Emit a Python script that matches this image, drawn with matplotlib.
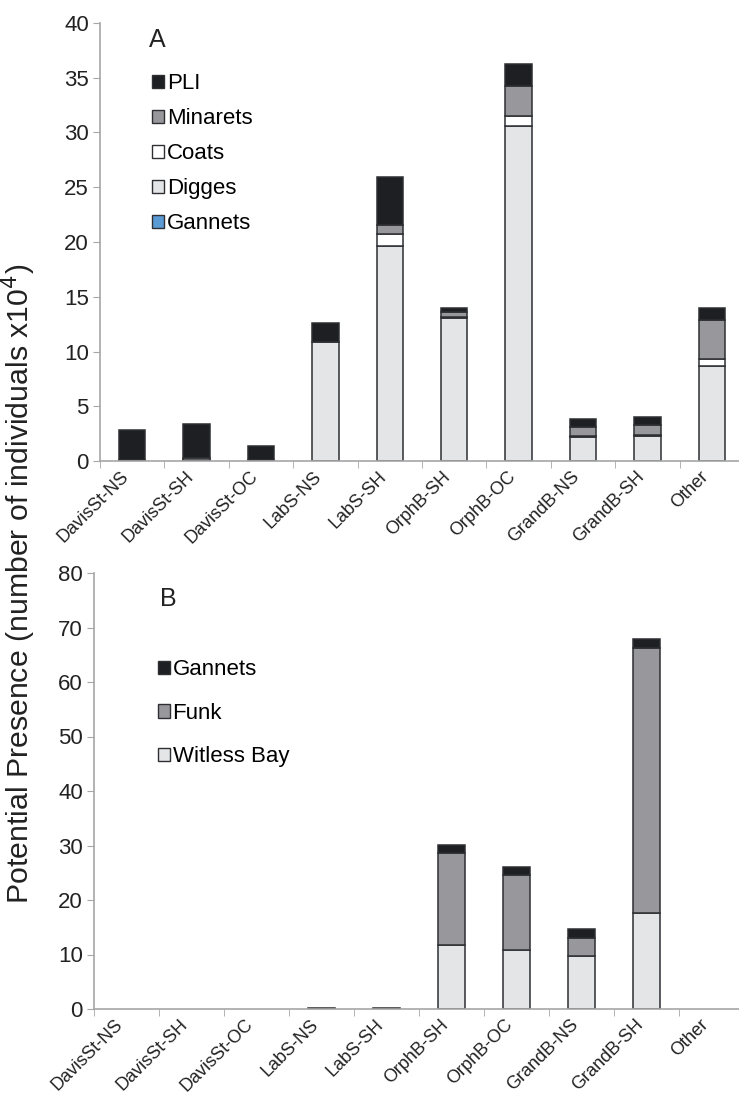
import numpy as np
import matplotlib.pyplot as plt
from matplotlib.patches import Patch
from matplotlib.transforms import ScaledTranslation

plt.rcParams['font.family'] = ['Liberation Sans', 'DejaVu Sans']

sites = ['DavisSt-NS', 'DavisSt-SH', 'DavisSt-OC', 'LabS-NS', 'LabS-SH',
         'OrphB-SH', 'OrphB-OC', 'GrandB-NS', 'GrandB-SH', 'Other']

# panel A colonies (x10^4 individuals), stacked bottom to top
gannets_a = [0, 0, 0, 0, 0, 0, 0, 0, 0, 0]
digges = [0.05, 0.05, 0.0, 10.83, 19.65, 13.1, 30.6, 2.19, 2.25, 8.7]
coats = [0.0, 0.2, 0.0, 0.0, 1.1, 0.06, 0.88, 0.06, 0.12, 0.58]
minarets = [0.0, 0.0, 0.12, 0.0, 0.82, 0.42, 2.8, 0.88, 0.88, 3.62]
pli = [2.75, 3.15, 1.25, 1.77, 4.33, 0.4, 2.02, 0.73, 0.75, 1.06]

# panel B colonies
witless = [0, 0, 0, 0.1, 0.1, 11.7, 10.8, 9.76, 17.63, 0]
funk = [0, 0, 0, 0, 0, 16.9, 13.7, 3.24, 48.57, 0]
gannets_b = [0, 0, 0, 0, 0, 1.54, 1.55, 1.6, 1.77, 0]

dark = '#1e1f22'
mid = '#98989c'
light = '#e4e5e7'
blue = '#5b9bd5'
edge = '#2e2f33'
axis_grey = '#a6a6a6'
txt = '#222222'

fig = plt.figure(figsize=(7.39, 10.96), dpi=100)
ax_a = fig.add_axes([100 / 739, 1 - 461 / 1096, 644 / 739, 438 / 1096])
ax_b = fig.add_axes([94 / 739, 1 - 1009 / 1096, 650 / 739, 436 / 1096])

x = np.arange(len(sites))
w = 0.41


def stack(ax, series, colors):
    bottom = np.zeros(len(sites))
    for vals, col in zip(series, colors):
        vals = np.asarray(vals, dtype=float)
        mask = vals > 0
        ax.bar(x[mask], vals[mask], w, bottom=bottom[mask], color=col,
               edgecolor=edge, linewidth=1.1)
        bottom += vals


def style(ax, ymax, step):
    ax.set_xlim(-0.5, len(sites) - 0.5)
    ax.set_ylim(0, ymax)
    ax.set_yticks(np.arange(0, ymax + 1, step))
    ax.set_xticks(x)
    ax.set_xticklabels([])
    # site names sit slightly left of each bar, slanted at 45 degrees
    lab_tr = ax.get_xaxis_transform() + ScaledTranslation(
        -0.12, -0.07, fig.dpi_scale_trans)
    for xi, name in zip(x, sites):
        ax.text(xi, 0, name, transform=lab_tr, rotation=45, ha='right',
                va='top', rotation_mode='anchor', fontsize=13, color=txt)
    ax.set_xticks(np.arange(-0.5, len(sites), 1), minor=True)
    ax.tick_params(axis='x', which='major', length=0)
    ax.tick_params(axis='x', which='minor', length=5, color=axis_grey)
    ax.tick_params(axis='y', length=5, color=axis_grey, labelsize=16,
                   labelcolor=txt, pad=3)
    for s in ['top', 'right']:
        ax.spines[s].set_visible(False)
    for s in ['left', 'bottom']:
        ax.spines[s].set_color(axis_grey)
        ax.spines[s].set_linewidth(1.2)


stack(ax_a, [gannets_a, digges, coats, minarets, pli],
      [blue, light, 'white', mid, dark])
style(ax_a, 40, 5)
stack(ax_b, [witless, funk, gannets_b], [light, mid, dark])
style(ax_b, 80, 10)

ax_a.text(0.0885, 0.961, 'A', transform=ax_a.transAxes, fontsize=18,
          ha='center', va='center', color=txt)
ax_b.text(0.115, 0.94, 'B', transform=ax_b.transAxes, fontsize=18,
          ha='center', va='center', color=txt)

handles_a = [Patch(facecolor=c, edgecolor=edge, linewidth=1)
             for c in [dark, mid, 'white', light, blue]]
ax_a.legend(handles_a, ['PLI', 'Minarets', 'Coats', 'Digges', 'Gannets'],
            loc='upper left', bbox_to_anchor=(0.081, 0.885), frameon=False,
            fontsize=16, handlelength=0.55, handleheight=0.55,
            handletextpad=0.12, labelspacing=0.63, borderaxespad=0,
            borderpad=0)

handles_b = [Patch(facecolor=c, edgecolor=edge, linewidth=1)
             for c in [dark, mid, light]]
ax_b.legend(handles_b, ['Gannets', 'Funk', 'Witless Bay'],
            loc='upper left', bbox_to_anchor=(0.098, 0.802), frameon=False,
            fontsize=16, handlelength=0.55, handleheight=0.55,
            handletextpad=0.12, labelspacing=1.01, borderaxespad=0,
            borderpad=0)

fig.text(0.026, 0.467, 'Potential Presence (number of individuals x10$^{4}$)',
         rotation=90, ha='center', va='center', fontsize=21.8, color=txt)

fig.savefig('out.png', dpi=100)
